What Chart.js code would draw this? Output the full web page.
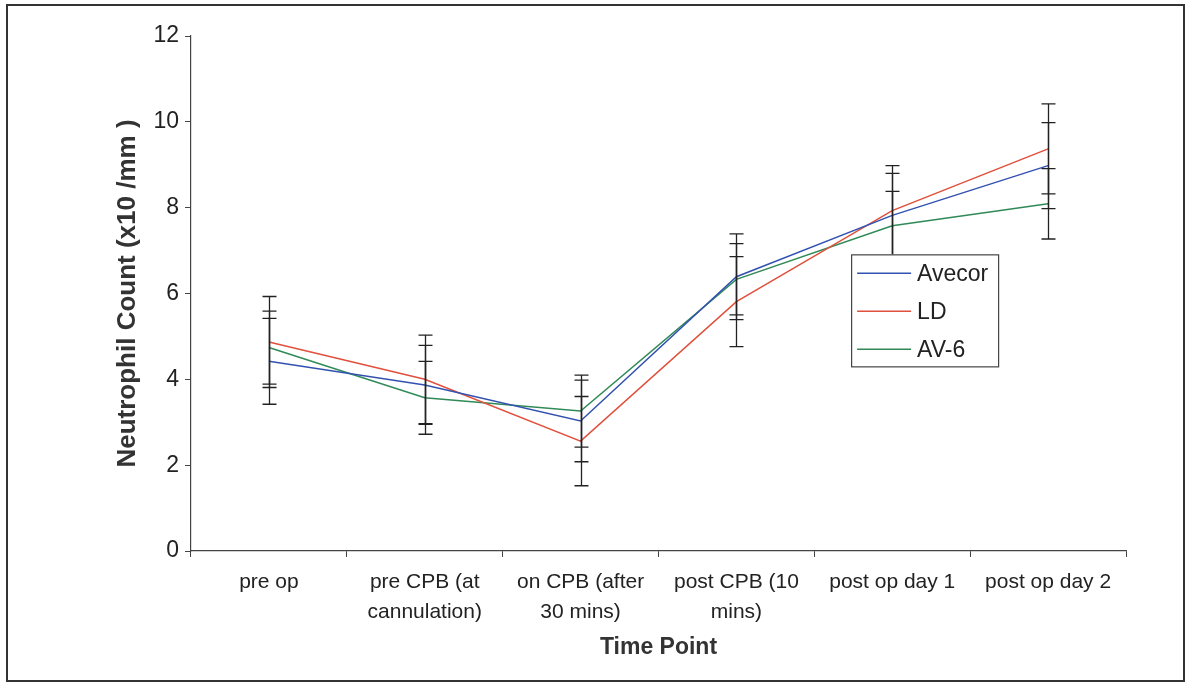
<!DOCTYPE html>
<html>
<head>
<meta charset="utf-8">
<script src="https://cdn.jsdelivr.net/npm/chart.js@4.4.1/dist/chart.umd.min.js"></script>
<style>
  html, body { margin: 0; padding: 0; background: #ffffff; }
  #wrap { width: 1190px; height: 683px; position: relative; }
  canvas { display: block; }
</style>
</head>
<body>
<div id="wrap"><canvas id="c" width="1190" height="683"></canvas></div>
<script>
// ---- data ----
const categories = [
  'pre op',
  ['pre CPB (at', 'cannulation)'],
  ['on CPB (after', '30 mins)'],
  ['post CPB (10', 'mins)'],
  'post op day 1',
  'post op day 2'
];
const seriesNames = ['Avecor', 'LD', 'AV-6'];
const avecor    = [4.42, 3.87, 3.03, 6.39, 7.82, 8.98];
const ld        = [4.87, 4.00, 2.56, 5.81, 7.93, 9.37];
const av6       = [4.74, 3.57, 3.26, 6.33, 7.58, 8.09];
const avecorErr = [1.00, 0.92, 0.95, 1.00, 0.98, 1.00];
const ldErr     = [1.06, 1.03, 1.04, 1.05, 1.05, 1.05];
const av6Err    = [0.85, 0.85, 0.84, 0.83, 0.80, 0.82];
const yTicks    = [0, 2, 4, 6, 8, 10, 12];

const colors = ['#3352b0', '#e0503c', '#2f8a58'];
const FONT = '"Liberation Sans", Arial, Helvetica, sans-serif';

const errs = [avecorErr, ldErr, av6Err];

const bgFrame = {
  id: 'bgFrame',
  beforeDraw(chart) {
    const ctx = chart.ctx;
    ctx.save();
    ctx.fillStyle = '#ffffff';
    ctx.fillRect(0, 0, chart.width, chart.height);
    ctx.restore();
  },
  afterDraw(chart) {
    const ctx = chart.ctx;
    ctx.save();
    ctx.strokeStyle = '#333333';
    ctx.lineWidth = 2;
    ctx.strokeRect(7, 5, 1177, 676);
    ctx.restore();
  }
};

const errorBars = {
  id: 'errorBars',
  afterDatasetsDraw(chart) {
    const ctx = chart.ctx;
    const ys = chart.scales.y;
    ctx.save();
    ctx.strokeStyle = '#222222';
    ctx.lineWidth = 1.3;
    chart.data.datasets.forEach((ds, di) => {
      const meta = chart.getDatasetMeta(di);
      meta.data.forEach((pt, i) => {
        const v = ds.data[i], e = errs[di][i];
        const x = Math.round(pt.x) + 0.5;
        const yt = ys.getPixelForValue(v + e);
        const yb = ys.getPixelForValue(v - e);
        ctx.beginPath();
        ctx.moveTo(x, yt); ctx.lineTo(x, yb);
        ctx.moveTo(x - 7, yt); ctx.lineTo(x + 7, yt);
        ctx.moveTo(x - 7, yb); ctx.lineTo(x + 7, yb);
        ctx.stroke();
      });
    });
    ctx.restore();
  }
};

const boxLegend = {
  id: 'boxLegend',
  afterDatasetsDraw(chart) {
    const ctx = chart.ctx;
    const ca = chart.chartArea;
    const w = ca.right - ca.left, h = ca.bottom - ca.top;
    const bx = ca.left + 0.706 * w, by = ca.top + 0.424 * h;
    const bw = 147, bh = 112;
    ctx.save();
    ctx.fillStyle = '#ffffff';
    ctx.fillRect(bx, by, bw, bh);
    ctx.strokeStyle = '#444444';
    ctx.lineWidth = 1.2;
    ctx.strokeRect(bx + 0.5, by + 0.5, bw, bh);
    ctx.font = '23px ' + FONT;
    ctx.textBaseline = 'middle';
    ctx.fillStyle = '#222222';
    chart.data.datasets.forEach((ds, i) => {
      const yy = by + 19 + i * 38;
      ctx.strokeStyle = ds.borderColor;
      ctx.lineWidth = 1.5;
      ctx.beginPath();
      ctx.moveTo(bx + 6, yy); ctx.lineTo(bx + 60, yy);
      ctx.stroke();
      ctx.fillText(ds.label, bx + 66, yy + 1);
    });
    ctx.restore();
  }
};

new Chart(document.getElementById('c'), {
  type: 'line',
  data: {
    labels: categories,
    datasets: [
      { label: seriesNames[0], data: avecor, borderColor: colors[0], backgroundColor: colors[0] },
      { label: seriesNames[1], data: ld,     borderColor: colors[1], backgroundColor: colors[1] },
      { label: seriesNames[2], data: av6,    borderColor: colors[2], backgroundColor: colors[2] }
    ]
  },
  options: {
    responsive: false,
    animation: false,
    devicePixelRatio: 1,
    layout: { padding: { top: 36, right: 64, bottom: 22, left: 0 } },
    elements: {
      line: { borderWidth: 1.5, tension: 0, fill: false },
      point: { radius: 0, hoverRadius: 0 }
    },
    plugins: {
      legend: { display: false },
      tooltip: { enabled: false },
      title: { display: false }
    },
    scales: {
      x: {
        type: 'category',
        offset: true,
        afterFit(scale) { scale.height = 110; },
        grid: { display: true, offset: true, drawOnChartArea: false, drawTicks: true, tickLength: 6, color: '#444444' },
        border: { display: true, color: '#444444', width: 1.2 },
        ticks: {
          color: '#222222',
          font: { family: FONT, size: 21, lineHeight: 1.45 },
          padding: 10,
          maxRotation: 0,
          autoSkip: false
        },
        title: {
          display: true,
          text: 'Time Point',
          color: '#333333',
          font: { family: FONT, size: 23, weight: 'bold' },
          padding: { top: 0, bottom: 0 }
        }
      },
      y: {
        min: 0,
        max: 12,
        afterFit(scale) { scale.width = 191; },
        afterBuildTicks(scale) { scale.ticks = yTicks.map(v => ({ value: v })); },
        grid: { display: true, drawOnChartArea: false, drawTicks: true, tickLength: 6, color: '#444444' },
        border: { display: true, color: '#444444', width: 1.2 },
        ticks: {
          color: '#222222',
          font: { family: FONT, size: 23 },
          padding: 6
        },
        title: {
          display: true,
          text: 'Neutrophil Count (x10 /mm )',
          color: '#333333',
          font: { family: FONT, size: 26, weight: 'bold' },
          padding: { top: 112, bottom: 0 }
        }
      }
    }
  },
  plugins: [bgFrame, errorBars, boxLegend]
});
</script>
</body>
</html>
